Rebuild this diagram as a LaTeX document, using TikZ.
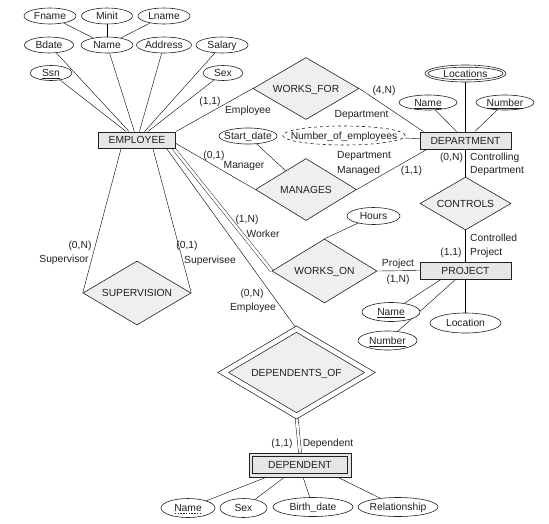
\documentclass[tikz,border=0pt]{standalone}
\usepackage{fontspec}
\setmainfont{Liberation Sans}
\usetikzlibrary{shapes.geometric,backgrounds}

\definecolor{ink}{HTML}{231F20}
\definecolor{entfill}{HTML}{E6E6E6}
\definecolor{relfill}{HTML}{EFEFEF}

% key attribute (solid) and partial key (dashed) underlines
\newcommand\keyline[1]{\setbox0=\hbox{#1}\rlap{\copy0}\raisebox{-2.2pt}{\rule{\wd0}{0.5pt}}}
\newcommand\partkeyline[1]{\setbox0=\hbox{#1}\rlap{\copy0}\raisebox{-2.2pt}{\hbox to \wd0{\xleaders\hbox to 2.6pt{\hss\rule{1.6pt}{0.5pt}\hss}\hfill}}}

\tikzset{
  every node/.style={text height=7.4pt, text depth=0pt},
  entity/.style={rectangle, draw=ink, line width=0.9pt, fill=entfill, inner sep=0pt},
  rel/.style={diamond, draw=ink, fill=relfill, aspect=1.7, inner sep=0pt},
  idrel/.style={rel, line width=0.7pt, double=white, double distance=4.6pt},
  attr/.style={ellipse, draw=ink, fill=white, inner sep=0pt, inner xsep=-10pt, minimum height=16pt},
  derivedattr/.style={attr, dashed},
  total/.style={double=white, double distance=2.6pt},
  lbl/.style={inner sep=0pt}
}

\begin{document}
\begin{tikzpicture}[x=1pt, y=-1pt, line width=0.6pt, color=ink, font=\fontsize{10.3}{12}\selectfont]
\useasboundingbox (0,0) rectangle (549,523);

% Entities
\node[entity, minimum width=77pt, minimum height=16pt] (emp) at (137,140) {EMPLOYEE};
\node[entity, minimum width=91pt, minimum height=17pt] (dept) at (465.5,140.5) {DEPARTMENT};
\node[entity, minimum width=91pt, minimum height=17pt] (proj) at (465.5,270.5) {PROJECT};
\node[entity, line width=0.7pt, minimum width=102pt, minimum height=24pt] (depnt) at (300,465) {DEPENDENT};
\draw[line width=0.7pt] ([shift={(4,4)}]depnt.north west) rectangle ([shift={(-4,-4)}]depnt.south east);

% Relationships
\node[rel, minimum width=106pt, minimum height=62pt] (worksfor) at (306,88.5) {WORKS\_FOR};
\node[rel, minimum width=101pt, minimum height=62pt] (manages) at (306,189.5) {MANAGES};
\node[rel, minimum width=91pt, minimum height=53pt] (controls) at (465.5,203.5) {CONTROLS};
\node[rel, minimum width=105pt, minimum height=64pt] (workson) at (324.5,271) {WORKS\_ON};
\node[rel, minimum width=108pt, minimum height=64pt] (supervision) at (137,293) {SUPERVISION};
\node[idrel, minimum width=147pt, minimum height=87pt] (dependentsof) at (296.5,372.5) {DEPENDENTS\_OF};

% Employee attributes
\node[attr, minimum width=52pt] (fname) at (50,16) {Fname};
\node[attr, minimum width=51pt] (minit) at (107,16) {Minit};
\node[attr, minimum width=52pt] (lname) at (164,16) {Lname};
\node[attr, minimum width=49pt] (bdate) at (49,45) {Bdate};
\node[attr, minimum width=52pt] (ename) at (107,45) {Name};
\node[attr, minimum width=55pt] (address) at (164,45) {Address};
\node[attr, minimum width=52pt] (salary) at (222,45) {Salary};
\node[attr, minimum width=42pt, minimum height=15pt] (ssn) at (51,73) {\keyline{Ssn}};
\node[attr, minimum width=40pt, minimum height=15pt] (sex) at (223,73) {Sex};

% Department attributes
\node[attr, minimum width=81pt, minimum height=17pt] (locations) at (465.5,73.5) {Locations};
\draw (locations.center) ellipse [x radius=37.5pt, y radius=6.3pt];
\node[attr, minimum width=58pt, minimum height=15pt] (dname) at (428,102.5) {\keyline{Name}};
\node[attr, minimum width=58pt, minimum height=15pt] (dnumber) at (505,102.5) {\keyline{Number}};
\node[derivedattr, minimum width=122pt, minimum height=19pt] (numemp) at (344,135.5) {Number\_of\_employees};
\node[attr, minimum width=58pt] (startdate) at (248,136) {Start\_date};
\node[attr, minimum width=53pt, minimum height=17pt] (hours) at (373.5,216) {Hours};

% Project attributes
\node[attr, minimum width=58pt, minimum height=19pt] (pname) at (391,312) {\keyline{Name}};
\node[attr, minimum width=59pt, minimum height=19pt] (pnumber) at (387.5,340.5) {\keyline{Number}};
\node[attr, minimum width=71pt, minimum height=20pt] (plocation) at (465.5,323) {Location};

% Dependent attributes
\node[attr, minimum width=54pt, minimum height=19pt] (depname) at (188,508) {\partkeyline{Name}};
\node[attr, minimum width=47pt, minimum height=19pt] (depsex) at (243.5,508) {Sex};
\node[attr, minimum width=80pt, minimum height=19pt] (birthdate) at (313,507) {Birth\_date};
\node[attr, minimum width=80pt, minimum height=19pt] (relationship) at (398,507) {Relationship};

% Connectors
\begin{pgfonlayer}{background}
\foreach \a in {fname,minit,lname} \draw (\a) -- (ename);
\foreach \a in {ssn,bdate,ename,address,salary,sex} \draw (\a) -- (emp);
\foreach \a in {locations,dname,dnumber,numemp} \draw (\a) -- (dept);
\draw (emp.north east) -- (worksfor.west);
\draw (worksfor.east) -- (dept.168);
\draw (emp.-5) -- (manages.west);
\draw (manages.east) -- (dept.193);
\draw (startdate) -- (manages);
\draw (dept) -- (controls);
\draw (controls) -- (proj);
\draw[total] (emp.-13) -- (workson.west);
\draw (hours) -- (workson.north);
\draw (workson.east) -- (proj.west);
\draw (emp.208) -- (supervision.west);
\draw (emp.-28) -- (supervision.east);
\draw (emp.-16) -- (dependentsof.north);
\draw[total] (dependentsof.south) -- (depnt.north);
\draw (proj.200) -- (pname);
\draw (proj.222) -- (pnumber);
\draw (proj) -- (plocation);
\draw (depnt.200.5) -- (depname);
\draw (depnt.218.5) -- (depsex);
\draw (depnt.284) -- (birthdate);
\draw (depnt.342) -- (relationship);
\end{pgfonlayer}

% Role names and constraints
\node[lbl] (l1) at (210,101) {(1,1)};
\node[lbl] (l2) at (248,110) {Employee};
\node[lbl] (l3) at (384,90) {(4,N)};
\node[lbl] (l4) at (361.5,114) {Department};
\node[lbl] (l5) at (214,155) {(0,1)};
\node[lbl] (l6) at (244,165) {Manager};
\node[lbl, anchor=west] (l7) at (337,155) {Department};
\node[lbl, anchor=west] (l8) at (337,170) {Managed};
\node[lbl] (l9) at (411.5,170) {(1,1)};
\node[lbl] (l10) at (451.5,157) {(0,N)};
\node[lbl, anchor=west] (l11) at (470,157) {Controlling};
\node[lbl, anchor=west] (l12) at (470,170) {Department};
\node[lbl, anchor=west] (l13) at (470,238) {Controlled};
\node[lbl, anchor=west] (l14) at (470,252) {Project};
\node[lbl] (l15) at (451,252) {(1,1)};
\node[lbl] (l16) at (398,263) {Project};
\node[lbl] (l17) at (398,279) {(1,N)};
\node[lbl] (l18) at (247,219) {(1,N)};
\node[lbl] (l19) at (263,234) {Worker};
\node[lbl] (l20) at (252,293) {(0,N)};
\node[lbl] (l21) at (253,307) {Employee};
\node[lbl] (l22) at (80,245) {(0,N)};
\node[lbl] (l23) at (64,259) {Supervisor};
\node[lbl] (l24) at (187,245) {(0,1)};
\node[lbl] (l25) at (210,260) {Supervisee};
\node[lbl] (l26) at (282,443) {(1,1)};
\node[lbl] (l27) at (328,443) {Dependent};
\end{tikzpicture}
\end{document}
